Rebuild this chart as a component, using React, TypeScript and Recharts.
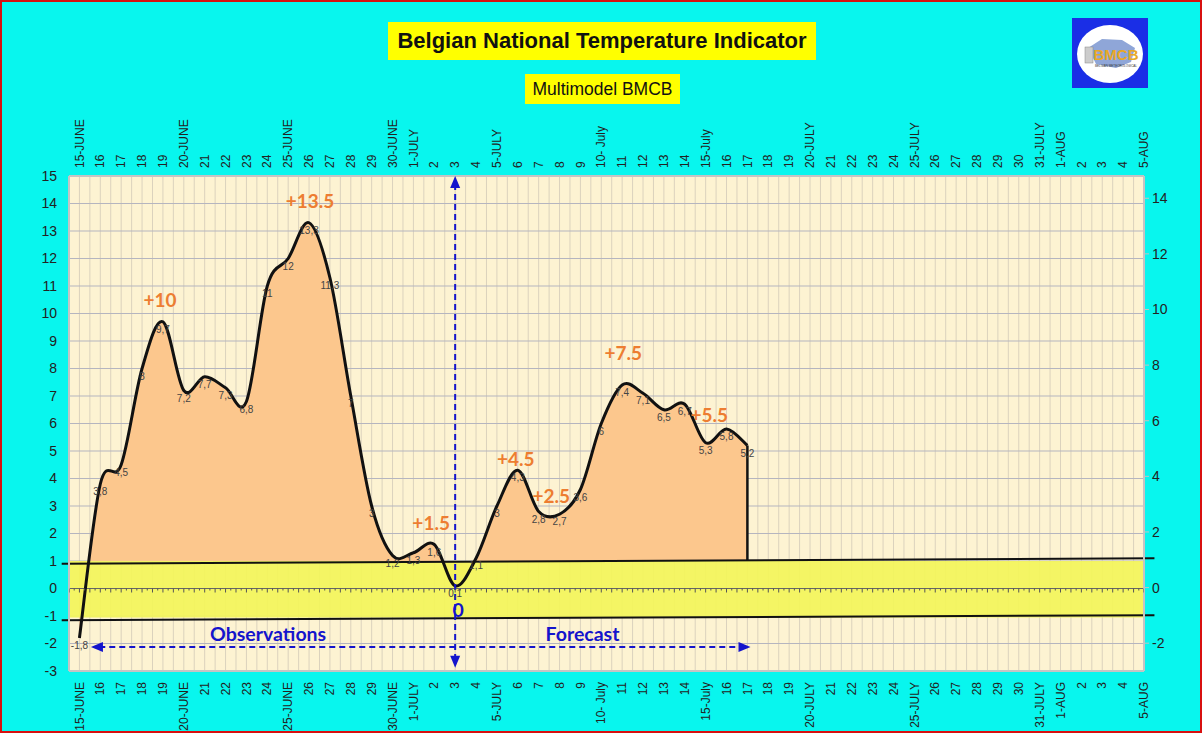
import React from "react";
import {
  ComposedChart,
  Area,
  Line,
  Scatter,
  XAxis,
  YAxis,
  CartesianGrid,
  ReferenceArea,
  ReferenceLine,
  ReferenceDot,
  LabelList,
} from "recharts";

// one label per day, 15 June .. 5 August
const days = [
  "15-JUNE", "16", "17", "18", "19", "20-JUNE", "21", "22", "23", "24", "25-JUNE", "26", "27", "28", "29", "30-JUNE",
  "1-JULY", "2", "3", "4", "5-JULY", "6", "7", "8", "9", "10- July", "11", "12", "13", "14", "15-July", "16", "17",
  "18", "19", "20-JULY", "21", "22", "23", "24", "25-JULY", "26", "27", "28", "29", "30", "31-JULY",
  "1-AUG", "2", "3", "4", "5-AUG",
];

// indicator values, 15 June .. 17 July
const temps = [
  -1.8, 3.8, 4.5, 8, 9.7, 7.2, 7.7, 7.3, 6.8, 11, 12, 13.3, 11.3, 7, 3, 1.2,
  1.3, 1.6, 0.1, 1.1, 3, 4.3, 2.8, 2.7, 3.6, 6, 7.4, 7.1, 6.5, 6.7, 5.3, 5.8, 5.2,
];

const leftTicks = [-3, -2, -1, 0, 1, 2, 3, 4, 5, 6, 7, 8, 9, 10, 11, 12, 13, 14, 15];
const rightTicks = [-2, 0, 2, 4, 6, 8, 10, 12, 14];

// orange peak notes
const peakText = ["+10", "+13.5", "+1.5", "+4.5", "+2.5", "+7.5", "+5.5"];
const peakDay = [3.86, 11.05, 16.85, 20.9, 22.6, 26.05, 30.17];
const peakLevel = [10.5, 14.1, 2.4, 4.73, 3.38, 8.57, 6.34];

// blue notes
const phaseText = ["Observations", "Forecast", "0"];
const phaseDay = [9.04, 24.1, 18.14];
const phaseLevel = [-1.62, -1.62, -0.76];

const todayIdx = 18; // 3 July
const arrowLevel = -2.13;
const arrowFrom = 0.55;
const arrowTo = 32.15;
const bandTop = [0.9, 1.1];
const bandBottom = [-1.15, -0.97];

const rows = temps.map((v, i) => ({ i, v }));
const lastIdx = temps.length - 1;
const dayTicks = days.map((_, i) => i);
const halfTicks = Array.from({ length: days.length * 2 }, (_, k) => -0.5 + k * 0.5);
const minorTicks = Array.from({ length: 207 }, (_, k) => ({ i: -0.5 + k * 0.25, v: 0, k }));
const peaks = peakText.map((t, k) => ({ i: peakDay[k], v: peakLevel[k], t }));
const phases = phaseText.map((t, k) => ({ i: phaseDay[k], v: phaseLevel[k], t }));

const FONT = "'Liberation Sans', Arial, sans-serif";
const BLUE = "#1414cc";

// Excel-like smoothed line (Catmull-Rom through every point)
const smoothCurve = (ctx: any) => {
  let pts: number[][] = [];
  let line = NaN;
  return {
    areaStart() { line = 0; },
    areaEnd() { line = NaN; },
    lineStart() { pts = []; },
    lineEnd() {
      const n = pts.length;
      if (n) {
        if (line) ctx.lineTo(pts[0][0], pts[0][1]);
        else ctx.moveTo(pts[0][0], pts[0][1]);
        for (let k = 0; k < n - 1; k++) {
          const p0 = pts[Math.max(k - 1, 0)];
          const p1 = pts[k];
          const p2 = pts[k + 1];
          const p3 = pts[Math.min(k + 2, n - 1)];
          ctx.bezierCurveTo(
            p1[0] + (p2[0] - p0[0]) / 6, p1[1] + (p2[1] - p0[1]) / 6,
            p2[0] - (p3[0] - p1[0]) / 6, p2[1] - (p3[1] - p1[1]) / 6,
            p2[0], p2[1]
          );
        }
      }
      if (line || (line !== 0 && n === 1)) ctx.closePath();
      line = 1 - line;
    },
    point(x: number, y: number) { pts.push([+x, +y]); },
  };
};

const TopTick = (p: any) => (
  <text x={p.x} y={p.y} transform={`rotate(-90 ${p.x} ${p.y})`} textAnchor="start" dy="0.35em"
    fontSize={12} fontFamily={FONT} fill="#222">
    {days[Math.round(p.payload.value)]}
  </text>
);

const BottomTick = (p: any) => (
  <text x={p.x} y={p.y} transform={`rotate(-90 ${p.x} ${p.y})`} textAnchor="end" dy="0.35em"
    fontSize={12} fontFamily={FONT} fill="#222">
    {days[Math.round(p.payload.value)]}
  </text>
);

const valueLabel = (p: any) => (
  <text x={p.x} y={p.y + 11} textAnchor="middle" fontSize={10} fontFamily={FONT} fill="#444">
    {String(p.value).replace(".", ",")}
  </text>
);

const noteShape = (color: string, size: number) => (p: any) => (
  <text x={p.cx} y={p.cy} textAnchor="middle" dominantBaseline="central" fill={color}
    fontSize={size} fontWeight="bold" fontFamily="Lato, 'Open Sans', sans-serif">
    {p.payload.t}
  </text>
);

const tickMark = (p: any) => (
  <line x1={p.cx} x2={p.cx} y1={p.cy} y2={p.cy + (p.payload.k % 2 ? 2 : 4)} stroke="#555" strokeWidth={1} />
);

const arrowHead = (dir: string) => (p: any) => {
  const { cx, cy } = p;
  let pts = "";
  if (dir === "up") pts = `${cx},${cy} ${cx - 5},${cy + 12} ${cx + 5},${cy + 12}`;
  if (dir === "down") pts = `${cx},${cy} ${cx - 5},${cy - 12} ${cx + 5},${cy - 12}`;
  if (dir === "left") pts = `${cx},${cy} ${cx + 12},${cy - 5} ${cx + 12},${cy + 5}`;
  if (dir === "right") pts = `${cx},${cy} ${cx - 12},${cy - 5} ${cx - 12},${cy + 5}`;
  return <polygon points={pts} fill={BLUE} />;
};

function Logo() {
  return (
    <svg width={76} height={70} style={{ position: "absolute", left: 1070, top: 16 }}>
      <rect x={0} y={0} width={76} height={70} fill="#1a2ee6" />
      <ellipse cx={38} cy={36} rx={33} ry={29} fill="#fff" />
      <path d="M16 30 L30 21 L50 22 L63 30 L59 44 L44 50 L24 46 Z" fill="#8fa6d8" />
      <rect x={13} y={29} width={8} height={16} fill="#ccc" stroke="#888" strokeWidth={0.5} />
      <text x={44} y={42} textAnchor="middle" fontSize={15} fontWeight="bold" fontFamily={FONT} fill="#e8a825">BMCB</text>
      <text x={44} y={49} textAnchor="middle" fontSize={3} fontFamily={FONT} fill="#333">BELGIAN METEOROLOGICAL</text>
    </svg>
  );
}

export default function App() {
  return (
    <div style={{
      position: "fixed", left: 0, top: 0, width: 1202, height: 733, boxSizing: "border-box",
      background: "#08f6ee", border: "2px solid #d81010", overflow: "hidden",
    }}>
      <div style={{ position: "absolute", left: -2, top: -2 }}>
        <ComposedChart width={1202} height={733} data={rows} margin={{ top: 116, right: 0, bottom: 2, left: 0 }}>
          <XAxis xAxisId="b" dataKey="i" type="number" domain={[-0.5, 51]} ticks={dayTicks} interval={0}
            allowDataOverflow orientation="bottom" height={60} tickSize={0} tickMargin={11}
            tick={<BottomTick />} axisLine={{ stroke: "#c4c4c4", strokeWidth: 2 }} />
          <XAxis xAxisId="t" dataKey="i" type="number" domain={[-0.5, 51]} ticks={dayTicks} interval={0}
            allowDataOverflow orientation="top" height={60} tickSize={0} tickMargin={8}
            tick={<TopTick />} axisLine={{ stroke: "#c4c4c4", strokeWidth: 2 }} />
          <XAxis xAxisId="g" dataKey="i" type="number" domain={[-0.5, 51]} ticks={halfTicks} interval={0}
            allowDataOverflow hide />
          <YAxis yAxisId="l" dataKey="v" type="number" domain={[-3, 15]} ticks={leftTicks} interval={0}
            allowDataOverflow width={69} tickLine={false} tickMargin={6}
            tick={{ fontSize: 14, fill: "#222", fontFamily: FONT }} axisLine={{ stroke: "#c4c4c4", strokeWidth: 2 }} />
          <YAxis yAxisId="r" orientation="right" type="number" domain={[-3, 14.8]} ticks={rightTicks}
            interval={0} allowDataOverflow width={58} tickSize={5} tickMargin={3}
            tickLine={{ stroke: "#c4c4c4" }}
            tick={{ fontSize: 14, fill: "#222", fontFamily: FONT }} axisLine={{ stroke: "#c4c4c4", strokeWidth: 2 }} />

          <CartesianGrid xAxisId="g" yAxisId="l" horizontal={false} stroke="#dbd2bd" fill="#fdf3d2" />
          <CartesianGrid xAxisId="b" yAxisId="l" vertical={false} stroke="#b5b5bf" />

          <Area xAxisId="b" yAxisId="l" dataKey="v" type={smoothCurve as any} baseValue={1}
            stroke="none" fill="#fcc78d" fillOpacity={1} isAnimationActive={false} />

          <ReferenceArea xAxisId="b" yAxisId="l" x1={-0.5} x2={51} y1={-1.05} y2={1.0}
            fill="#f3f55a" fillOpacity={0.92} stroke="none" />
          <ReferenceLine xAxisId="b" yAxisId="l" y={0} stroke="#666" strokeWidth={1} />
          <Scatter xAxisId="b" yAxisId="l" data={minorTicks} dataKey="v" shape={tickMark} isAnimationActive={false} />

          <ReferenceLine xAxisId="b" yAxisId="l" ifOverflow="visible" stroke="#111" strokeWidth={2}
            segment={[{ x: -0.85, y: bandTop[0] }, { x: 51.5, y: bandTop[1] }]} />
          <ReferenceLine xAxisId="b" yAxisId="l" ifOverflow="visible" stroke="#111" strokeWidth={2}
            segment={[{ x: -0.85, y: bandBottom[0] }, { x: 51.5, y: bandBottom[1] }]} />

          <ReferenceLine xAxisId="b" yAxisId="l" stroke="#111" strokeWidth={2.5}
            segment={[{ x: lastIdx, y: 1 }, { x: lastIdx, y: temps[lastIdx] }]} />

          <Line xAxisId="b" yAxisId="l" dataKey="v" type={smoothCurve as any} stroke="#111" strokeWidth={3}
            dot={false} isAnimationActive={false}>
            <LabelList dataKey="v" content={valueLabel} />
          </Line>

          <ReferenceLine xAxisId="b" yAxisId="l" stroke={BLUE} strokeWidth={2} strokeDasharray="6 4"
            segment={[{ x: todayIdx, y: -2.6 }, { x: todayIdx, y: 14.6 }]} />
          <ReferenceDot xAxisId="b" yAxisId="l" x={todayIdx} y={15} shape={arrowHead("up")} />
          <ReferenceDot xAxisId="b" yAxisId="l" x={todayIdx} y={-2.88} shape={arrowHead("down")} />

          <ReferenceLine xAxisId="b" yAxisId="l" stroke={BLUE} strokeWidth={2} strokeDasharray="6 4"
            segment={[{ x: arrowFrom + 0.4, y: arrowLevel }, { x: arrowTo - 0.4, y: arrowLevel }]} />
          <ReferenceDot xAxisId="b" yAxisId="l" x={arrowFrom} y={arrowLevel} shape={arrowHead("left")} />
          <ReferenceDot xAxisId="b" yAxisId="l" x={arrowTo} y={arrowLevel} shape={arrowHead("right")} />

          <Scatter xAxisId="b" yAxisId="l" data={peaks} dataKey="v" shape={noteShape("#ed7d31", 19)} isAnimationActive={false} />
          <Scatter xAxisId="b" yAxisId="l" data={phases} dataKey="v" shape={noteShape(BLUE, 19.5)} isAnimationActive={false} />
        </ComposedChart>
      </div>

      <div style={{
        position: "absolute", left: 386, top: 20, width: 428, height: 38, background: "#ffff00",
        display: "flex", alignItems: "center", justifyContent: "center",
        fontFamily: FONT, fontWeight: "bold", fontSize: 22, color: "#111", whiteSpace: "nowrap",
      }}>
        Belgian National Temperature Indicator
      </div>
      <div style={{
        position: "absolute", left: 523, top: 72, width: 155, height: 30, background: "#ffff00",
        display: "flex", alignItems: "center", justifyContent: "center",
        fontFamily: FONT, fontSize: 17.5, color: "#111", whiteSpace: "nowrap",
      }}>
        Multimodel BMCB
      </div>
      <Logo />
    </div>
  );
}
